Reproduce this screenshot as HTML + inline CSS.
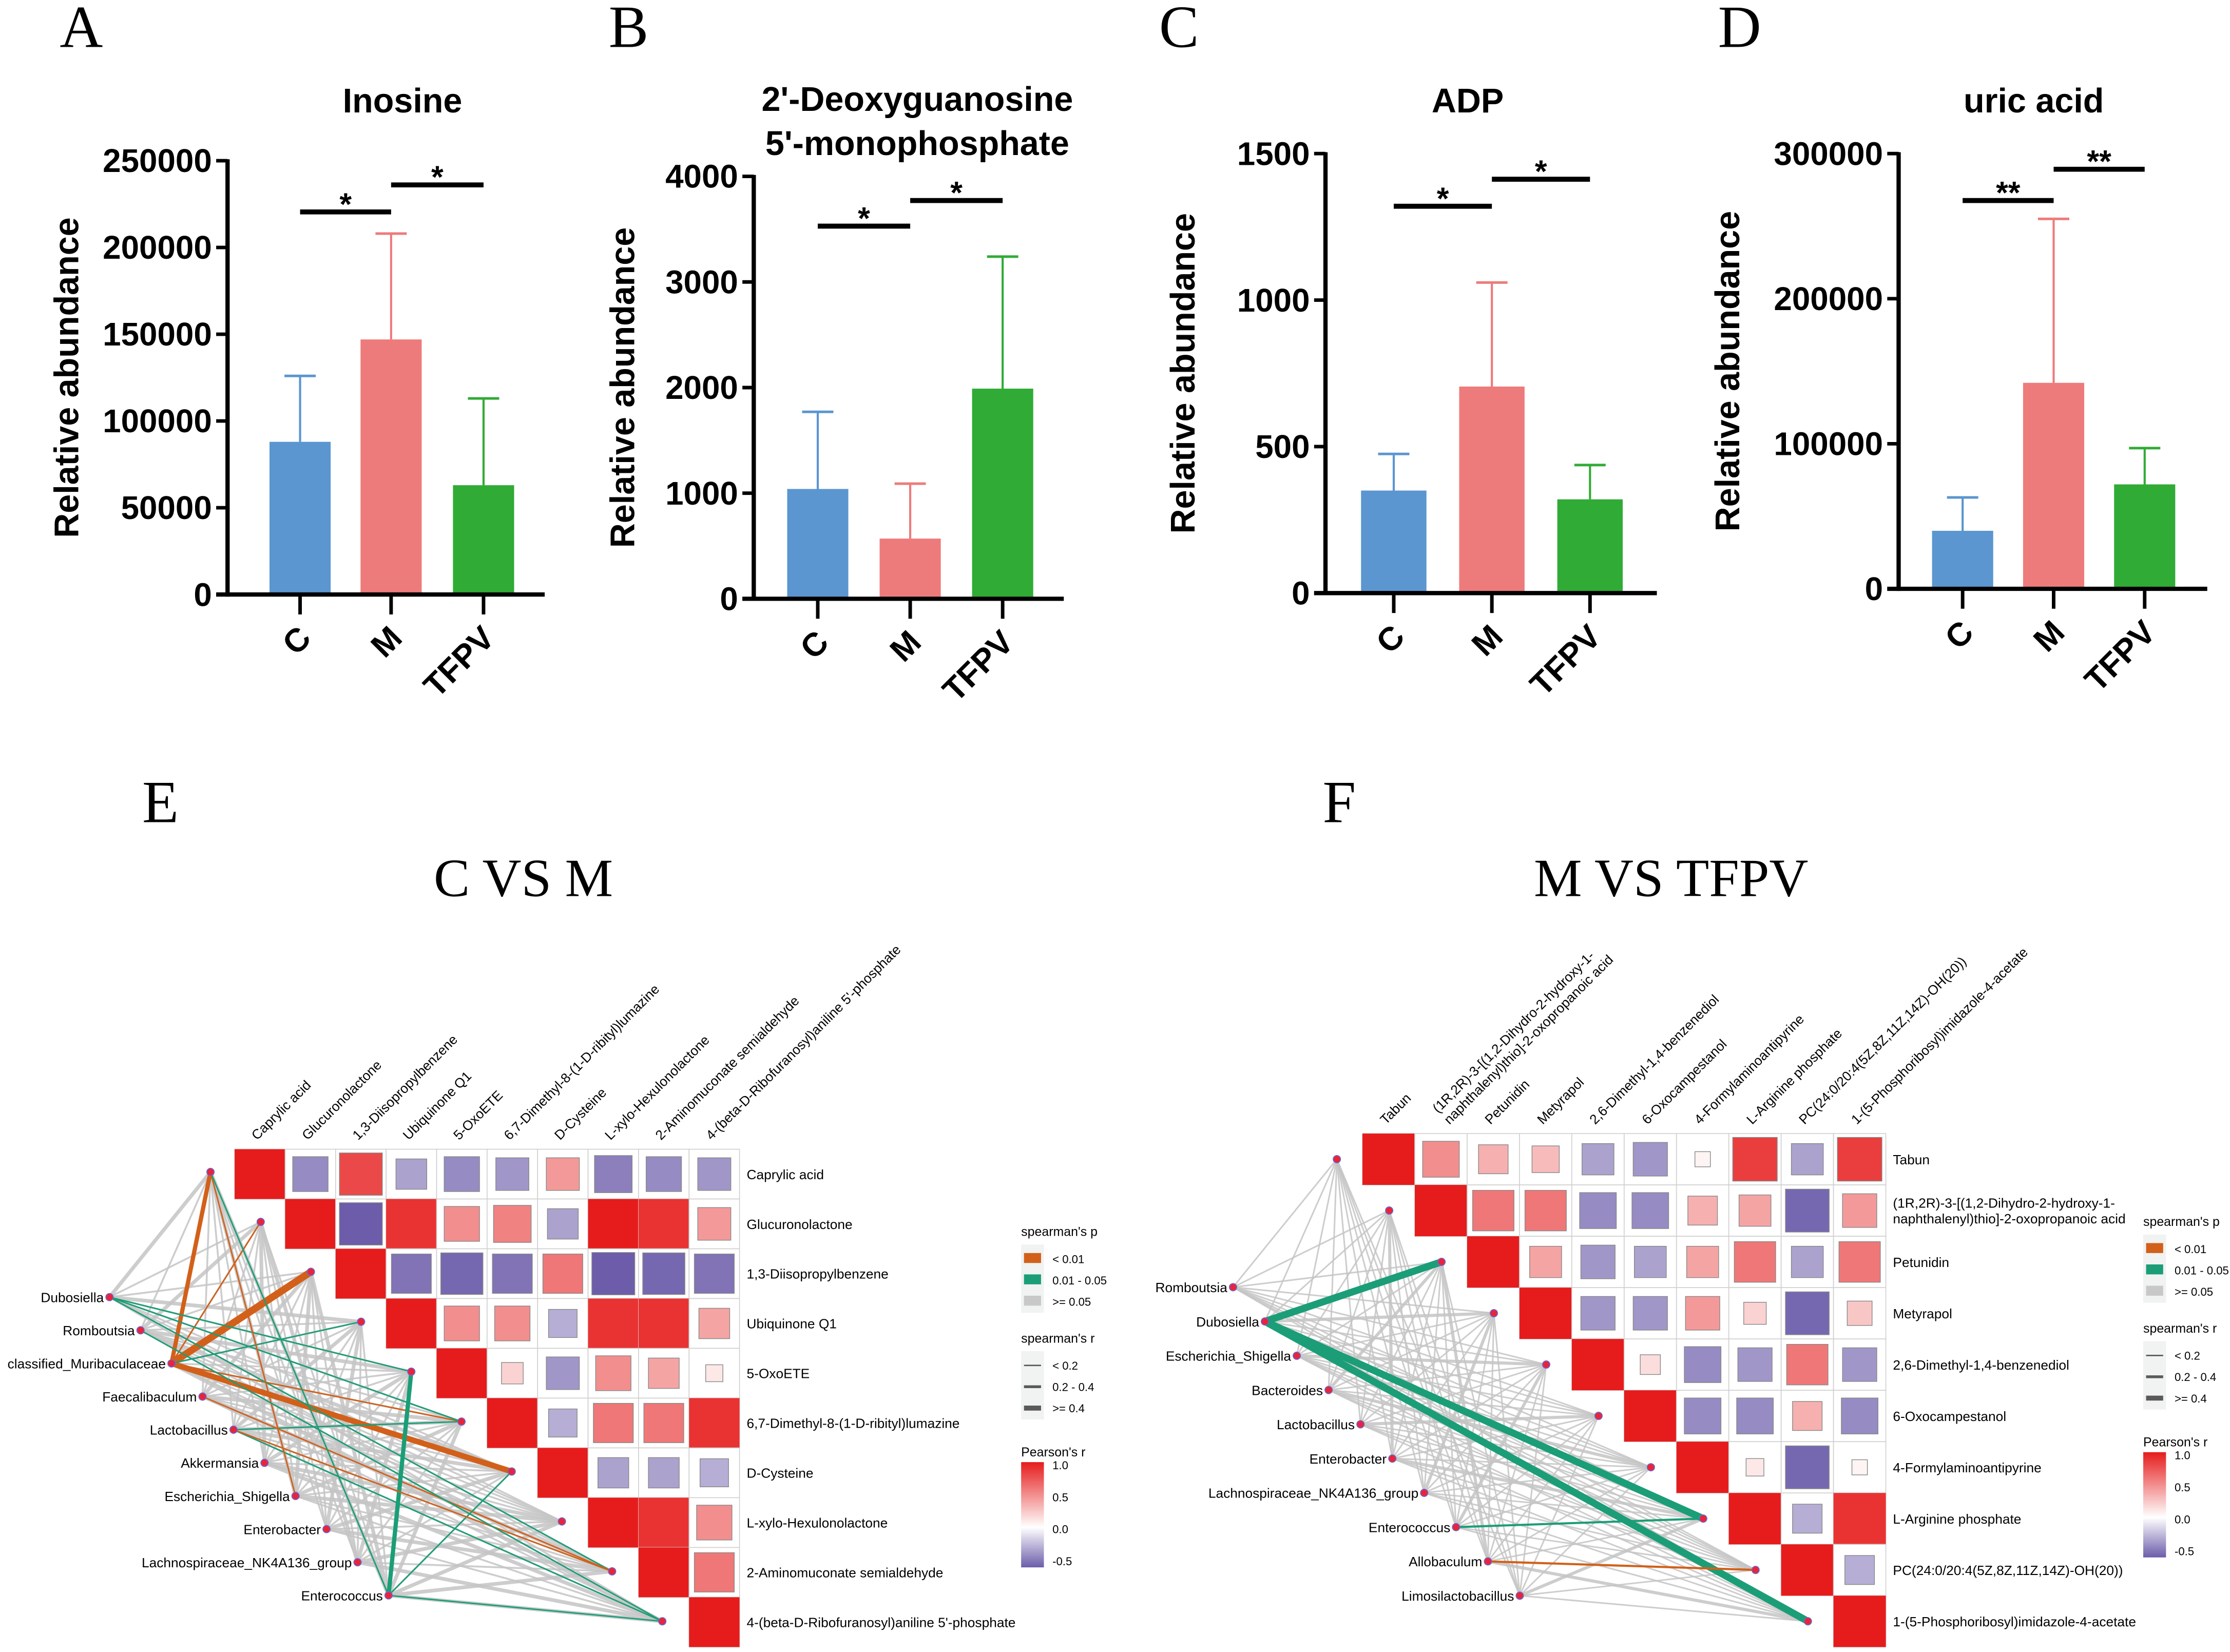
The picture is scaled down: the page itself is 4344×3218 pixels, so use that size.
<!DOCTYPE html>
<html><head><meta charset="utf-8"><style>
html,body{margin:0;padding:0;background:#fff}
svg{display:block}
text{font-family:"Liberation Sans",sans-serif}
text.serif{font-family:"Liberation Serif",serif}
</style></head><body>
<svg id="s" xmlns="http://www.w3.org/2000/svg" width="4344" height="3218" viewBox="0 0 1568 1161.5" preserveAspectRatio="none">
<rect width="1568" height="1161.5" fill="#fff"/>
<text class="serif" x="42" y="33" font-size="42">A</text>
<text class="serif" x="428" y="33" font-size="42">B</text>
<text class="serif" x="815" y="33" font-size="42">C</text>
<text class="serif" x="1208" y="33" font-size="42">D</text>
<text class="serif" x="100" y="578" font-size="42">E</text>
<text class="serif" x="930" y="578" font-size="42">F</text>
<text class="serif" x="368" y="630" text-anchor="middle" font-size="38">C VS M</text>
<text class="serif" x="1175" y="630" text-anchor="middle" font-size="38">M VS TFPV</text>
</svg>
<script>
const groups = ["C","M","TFPV"];
const inosineVals = [88000,147000,63000];
const inosineErr = [126000,208000,113000];
const dgmpVals = [1040,570,1990];
const dgmpErr = [1770,1090,3240];
const adpVals = [350,705,320];
const adpErr = [475,1060,437];
const uricVals = [40000,142000,72000];
const uricErr = [63000,255000,97000];
const inosineTicks = [0,50000,100000,150000,200000,250000];
const dgmpTicks = [0,1000,2000,3000,4000];
const adpTicks = [0,500,1000,1500];
const uricTicks = [0,100000,200000,300000];

const metsE = ["Caprylic acid","Glucuronolactone","1,3-Diisopropylbenzene","Ubiquinone Q1","5-OxoETE","6,7-Dimethyl-8-(1-D-ribityl)lumazine","D-Cysteine","L-xylo-Hexulonolactone","2-Aminomuconate semialdehyde","4-(beta-D-Ribofuranosyl)aniline 5'-phosphate"];
const corrE = [
 [1,-0.5,0.8,-0.4,-0.5,-0.45,0.45,-0.55,-0.5,-0.45],
 [0,1,-0.7,0.9,0.5,0.55,-0.4,1,0.9,0.45],
 [0,0,1,-0.6,-0.65,-0.6,0.6,-0.7,-0.65,-0.6],
 [0,0,0,1,0.5,0.5,-0.35,0.9,0.9,0.4],
 [0,0,0,0,1,0.2,-0.45,0.5,0.4,0.1],
 [0,0,0,0,0,1,-0.35,0.6,0.6,0.9],
 [0,0,0,0,0,0,1,-0.4,-0.4,-0.35],
 [0,0,0,0,0,0,0,1,0.9,0.5],
 [0,0,0,0,0,0,0,0,1,0.6],
 [0,0,0,0,0,0,0,0,0,1]];
const genusE = ["Dubosiella","Romboutsia","classified_Muribaculaceae","Faecalibaculum","Lactobacillus","Akkermansia","Escherichia_Shigella","Enterobacter","Lachnospiraceae_NK4A136_group","Enterococcus"];
const wE = [
 [2,1,1,2,1,1,1,1,1,1],
 [1,2,1,1,2,1,2,1,1,1],
 [1,1,1,1,1,1,1,1,1,2],
 [1,1,2,1,1,2,1,1,2,1],
 [1,1,1,2,1,2,2,1,1,1],
 [1,2,1,1,2,1,1,2,1,2],
 [2,1,2,1,1,2,1,2,1,1],
 [1,1,1,2,1,1,2,1,2,1],
 [1,2,1,1,2,1,1,2,1,2],
 [2,1,2,1,1,2,1,2,2,2]];
const sigE = [[2,0,"o",3],[2,2,"o",5],[2,6,"o",4],[2,5,"o",1],[2,3,"g",1],[2,1,"o",1],[0,4,"g",1],[0,5,"g",1],[0,8,"g",1],[4,9,"g",1],[4,5,"g",1],[3,8,"o",1],[6,0,"o",1],[9,4,"g",3],[9,0,"g",1],[9,6,"g",1],[9,9,"g",1],[4,8,"o",1],[1,9,"g",1]];

const metsF = ["Tabun","(1R,2R)-3-[(1,2-Dihydro-2-hydroxy-1-|naphthalenyl)thio]-2-oxopropanoic acid","Petunidin","Metyrapol","2,6-Dimethyl-1,4-benzenediol","6-Oxocampestanol","4-Formylaminoantipyrine","L-Arginine phosphate","PC(24:0/20:4(5Z,8Z,11Z,14Z)-OH(20))","1-(5-Phosphoribosyl)imidazole-4-acetate"];
const corrF = [
 [1,0.5,0.35,0.3,-0.4,-0.45,0.05,0.85,-0.4,0.85],
 [0,1,0.6,0.6,-0.5,-0.5,0.35,0.4,-0.65,0.45],
 [0,0,1,0.4,-0.45,-0.4,0.4,0.6,-0.4,0.6],
 [0,0,0,1,-0.45,-0.45,0.45,0.2,-0.65,0.25],
 [0,0,0,0,1,0.15,-0.5,-0.45,0.6,-0.45],
 [0,0,0,0,0,1,-0.5,-0.5,0.35,-0.5],
 [0,0,0,0,0,0,1,0.1,-0.65,0.05],
 [0,0,0,0,0,0,0,1,-0.35,0.9],
 [0,0,0,0,0,0,0,0,1,-0.35],
 [0,0,0,0,0,0,0,0,0,1]];
const genusF = ["Romboutsia","Dubosiella","Escherichia_Shigella","Bacteroides","Lactobacillus","Enterobacter","Lachnospiraceae_NK4A136_group","Enterococcus","Allobaculum","Limosilactobacillus"];
const wF = [
 [1,1,1,1,1,1,1,1,1,1],
 [1,1,1,2,1,1,1,1,1,1],
 [1,1,1,1,2,1,1,1,1,1],
 [1,1,2,1,1,1,2,1,1,1],
 [1,1,1,1,1,2,1,1,1,1],
 [1,2,1,1,1,1,1,2,1,1],
 [1,1,1,2,1,1,1,1,1,1],
 [1,1,1,1,2,1,1,1,1,1],
 [1,1,2,1,1,1,1,1,1,2],
 [1,1,1,1,1,1,1,2,1,1]];
const sigF = [[1,2,"g",5],[1,7,"g",5],[1,9,"g",5],[7,7,"g",1.5],[8,8,"o",1.5]];

const S = document.getElementById('s');
const NS = "http://www.w3.org/2000/svg";
function mk(tag, attrs, parent, txt){
  const e = document.createElementNS(NS, tag);
  for (const k in attrs) e.setAttribute(k, attrs[k]);
  if (txt !== undefined) e.textContent = txt;
  (parent || S).appendChild(e);
  return e;
}
const barColors = ["#5b96d0","#ee7b7b","#30ab36"];

function barChart(o){
  const g = mk('g', {});
  
  
  const y = v => o.y0 - (v / o.max) * (o.y0 - o.yTop);
  o.ticks.forEach(t => {
    const l = mk('line', {x1:o.ax-8, x2:o.ax, y1:y(t), y2:y(t), stroke:'#000','stroke-width':2.5}, g);
    
    
    const tx = mk('text', {x:o.ax-11, y:y(t)+8, 'text-anchor':'end','font-size':23,'font-weight':'bold'}, g, String(t));
    
    
  });
  o.centers.forEach((cx, i) => {
    const top = y(o.vals[i]), et = y(o.errs[i]);
    mk('line', {x1:cx, x2:cx, y1:top, y2:et, stroke:barColors[i], 'stroke-width':1.5}, g);
    mk('line', {x1:cx-11, x2:cx+11, y1:et, y2:et, stroke:barColors[i], 'stroke-width':1.8}, g);
    const r = mk('rect', {x:cx-o.bw/2, y:top, width:o.bw, height:o.y0-top, fill:barColors[i]}, g);
    
    
    mk('line', {x1:cx, x2:cx, y1:o.y0, y2:o.y0+14, stroke:'#000','stroke-width':2.5}, g);
    const tl = mk('text', {x:cx+9, y:o.y0+32, 'text-anchor':'end','font-size':23,'font-weight':'bold', transform:`rotate(-45 ${cx+9} ${o.y0+32})`}, g, groups[i]);
    
    
  });
  mk('line', {x1:o.ax, x2:o.ax, y1:o.yTop-1, y2:o.y0+1.5, stroke:'#000','stroke-width':3}, g);
  mk('line', {x1:o.ax-8, x2:o.axEnd, y1:o.y0, y2:o.y0, stroke:'#000','stroke-width':3}, g);
  o.sig.forEach(s => {
    const a = o.centers[s[0]], b = o.centers[s[1]];
    mk('line', {x1:a, x2:b, y1:s[2], y2:s[2], stroke:'#000','stroke-width':3.5}, g);
    mk('text', {x:(a+b)/2, y:s[2]+2, 'text-anchor':'middle','font-size':22,'font-weight':'bold'}, g, s[3]);
  });
  const yl = mk('text', {x:o.ylx, y:(o.y0+o.yTop)/2, 'text-anchor':'middle','font-size':24,'font-weight':'bold', transform:`rotate(-90 ${o.ylx} ${(o.y0+o.yTop)/2})`}, g, 'Relative abundance');
  
  
  o.title.forEach((t, k) => {
    const tt = mk('text', {x:o.tx, y:o.ty + k*31, 'text-anchor':'middle','font-size':24,'font-weight':'bold'}, g, t);
    
    
  });
}
barChart({name:'chart-inosine', ax:160, axEnd:383, y0:418, yTop:113, max:250000, ticks:inosineTicks, centers:[211,275,340], bw:43, vals:inosineVals, errs:inosineErr, sig:[[0,1,149,'*'],[1,2,130,'*']], ylx:55, title:['Inosine'], tx:283, ty:79});
barChart({name:'chart-dgmp', ax:530, axEnd:748, y0:421, yTop:124, max:4000, ticks:dgmpTicks, centers:[575,640,705], bw:43, vals:dgmpVals, errs:dgmpErr, sig:[[0,1,159,'*'],[1,2,141,'*']], ylx:446, title:["2'-Deoxyguanosine","5'-monophosphate"], tx:645, ty:78});
barChart({name:'chart-adp', ax:932, axEnd:1165, y0:417, yTop:108, max:1500, ticks:adpTicks, centers:[980,1049,1118], bw:46, vals:adpVals, errs:adpErr, sig:[[0,1,145,'*'],[1,2,126,'*']], ylx:840, title:['ADP'], tx:1032, ty:79});
barChart({name:'chart-uric-acid', ax:1335, axEnd:1552, y0:414, yTop:108, max:300000, ticks:uricTicks, centers:[1380,1444,1508], bw:43, vals:uricVals, errs:uricErr, sig:[[0,1,141,'**'],[1,2,119,'**']], ylx:1223, title:['uric acid'], tx:1430, ty:79});

function corColor(r){
  const red=[230,28,28], pur=[108,92,170];
  if (r >= 0){ const t=Math.min(1,r); return `rgb(${Math.round(255+(red[0]-255)*t)},${Math.round(255+(red[1]-255)*t)},${Math.round(255+(red[2]-255)*t)})`; }
  const t=Math.min(1,-r/0.7); return `rgb(${Math.round(255+(pur[0]-255)*t)},${Math.round(255+(pur[1]-255)*t)},${Math.round(255+(pur[2]-255)*t)})`;
}
const edgeCol = {o:'#d2601a', g:'#1b9e77'};

function panel(o){
  const g = mk('g', {});
  
  
  const n = o.mets.length;
  const cx = j => o.hx + j*o.cw, cy = i => o.hy + i*o.ch;
  const metNode = i => [o.mx0 + i*o.mdx, o.my0 + i*o.mdy];
  const genNode = i => [o.gx0 + i*o.gdx, o.gy0 + i*o.gdy];
  o.genus.forEach((gn, a) => {
    o.mets.forEach((m, b) => {
      const p=genNode(a), q=metNode(b);
      const e = mk('line', {x1:p[0],y1:p[1],x2:q[0],y2:q[1],stroke:'#c4c4c4','stroke-width':o.w[a][b]*o.wscale,'stroke-opacity':0.85}, g);
      
      
    });
  });
  o.sig.forEach(s => {
    const p=genNode(s[0]), q=metNode(s[1]);
    const e = mk('line', {x1:p[0],y1:p[1],x2:q[0],y2:q[1],stroke:edgeCol[s[2]],'stroke-width':s[3]}, g);
    
    
  });
  for (let i=0;i<n;i++){
    for (let j=i;j<n;j++){
      mk('rect',{x:cx(j),y:cy(i),width:o.cw,height:o.ch,fill:'#fff',stroke:'#d0d0d0','stroke-width':0.6},g);
      const r = o.corr[i][j];
      const f = Math.abs(r)>=0.9 ? 1 : Math.min(0.85, 0.25+0.9*Math.abs(r));
      const w=o.cw*f, h=o.ch*f;
      const c = mk('rect',{x:cx(j)+(o.cw-w)/2,y:cy(i)+(o.ch-h)/2,width:w,height:h,fill:corColor(r),stroke:f<1?'#888':'none','stroke-width':0.5},g);
      
      
    }
    const parts = o.mets[i].split('|');
    parts.forEach((t,k) => {
      const lb = mk('text',{x:o.hx+n*o.cw+5,y:cy(i)+o.ch/2+3.5+(k-(parts.length-1)/2)*11,'font-size':9.5},g,t);
      
      
    });
    const tx=cx(i)+o.cw/2-2, ty=o.hy-6;
    parts.forEach((t,k) => {
      const lb = mk('text',{x:tx+k*8,y:ty+k*8-(parts.length-1)*8,'font-size':9.5,transform:`rotate(-45 ${tx+k*8} ${ty+k*8-(parts.length-1)*8})`},g,t);
      
      
    });
  }
  o.mets.forEach((m,b) => { const q=metNode(b); mk('circle',{cx:q[0],cy:q[1],r:2.6,fill:'#e8243c',stroke:'#6a6ad0','stroke-width':0.6},g); });
  o.genus.forEach((gn,a) => {
    const p=genNode(a);
    const nd = mk('circle',{cx:p[0],cy:p[1],r:2.6,fill:'#e8243c',stroke:'#6a6ad0','stroke-width':0.6},g);
    
    
    const lb = mk('text',{x:p[0]-4,y:p[1]+3.5,'text-anchor':'end','font-size':9.5},g,gn);
    
    
  });
  const L = mk('g',{},g);
  
  
  const lx=o.lx, ly=o.ly;
  mk('text',{x:lx,y:ly,'font-size':9},L,"spearman's p");
  mk('rect',{x:lx,y:ly+6,width:16,height:48,fill:'#f1f2f2'},L);
  [['#d2601a','< 0.01'],['#1b9e77','0.01 - 0.05'],['#c8c8c8','>= 0.05']].forEach((d,k)=>{
    mk('rect',{x:lx+2,y:ly+12+k*15,width:12,height:7,fill:d[0]},L);
    mk('text',{x:lx+22,y:ly+19+k*15,'font-size':8},L,d[1]);
  });
  const ly2=ly+75;
  mk('text',{x:lx,y:ly2,'font-size':9},L,"spearman's r");
  mk('rect',{x:lx,y:ly2+6,width:16,height:48,fill:'#f1f2f2'},L);
  [[1,'< 0.2'],[2,'0.2 - 0.4'],[3.5,'>= 0.4']].forEach((d,k)=>{
    mk('line',{x1:lx+2,x2:lx+14,y1:ly2+16+k*15,y2:ly2+16+k*15,stroke:'#5a5a5a','stroke-width':d[0]},L);
    mk('text',{x:lx+22,y:ly2+19+k*15,'font-size':8},L,d[1]);
  });
  const ly3=ly+155;
  mk('text',{x:lx,y:ly3,'font-size':9},L,"Pearson's r");
  const gid='grad'+o.name;
  const defs=mk('defs',{},L);
  const lg=mk('linearGradient',{id:gid,x1:0,y1:0,x2:0,y2:1},defs);
  mk('stop',{offset:'0','stop-color':'#e61c1c'},lg);
  mk('stop',{offset:'0.62','stop-color':'#ffffff'},lg);
  mk('stop',{offset:'1','stop-color':'#6c5caa'},lg);
  mk('rect',{x:lx,y:ly3+4,width:16,height:74,fill:`url(#${gid})`},L);
  ['1.0','0.5','0.0','-0.5'].forEach((t,k)=>{
    mk('text',{x:lx+22,y:ly3+9+k*22.5,'font-size':8},L,t);
  });
}
panel({name:'panel-e', mets:metsE, corr:corrE, genus:genusE, w:wE, sig:sigE, wscale:1.3,
  hx:165, hy:808, cw:35.5, ch:35,
  mx0:148, my0:824, mdx:35.3, mdy:35.1,
  gx0:77, gy0:912, gdx:21.8, gdy:23.3,
  lx:718, ly:869});
panel({name:'panel-f', mets:metsF, corr:corrF, genus:genusF, w:wF, sig:sigF, wscale:1.1,
  hx:958, hy:797, cw:36.8, ch:36.1,
  mx0:940, my0:815, mdx:36.8, mdy:36.1,
  gx0:867, gy0:905, gdx:22.4, gdy:24.1,
  lx:1507, ly:862});
</script>
</body></html>
